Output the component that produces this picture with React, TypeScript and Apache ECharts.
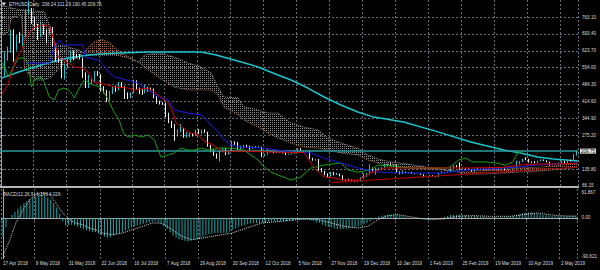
import React, { useEffect, useRef } from 'react';
import * as echarts from 'echarts';

const titleText = 'ETHUSD,Daily  208.24 211.29 190.45 209.75';
const macdText = 'MACD(12,26,9) 6.243 4.026';
const bidPrice = 209.75;

const dateLabels = ['17 Apr 2018', '9 May 2018', '31 May 2018', '22 Jun 2018', '16 Jul 2018', '7 Aug 2018', '29 Aug 2018', '20 Sep 2018', '12 Oct 2018', '5 Nov 2018', '27 Nov 2018', '19 Dec 2018', '10 Jan 2019', '1 Feb 2019', '25 Feb 2019', '19 Mar 2019', '10 Apr 2019', '2 May 2019'];
const priceTicks = [66.15, 135.8, 275.2, 344.9, 414.6, 484.3, 554.0, 623.7, 693.4, 763.1];
const macdTicks = [61.867, 0, -90.821];
const macdTickLabels = ['61.867', '0.00', '-90.821'];

// [open, close, low, high]
const candles = [
  [511,524,499,530],[524,615,520,620],[615,621,583,641],[621,708,615,712],[708,661,578,712],[661,683,625,688],[683,669,655,702],[669,687,640,690],[687,785,680,794],[785,792,775,830],
  [792,751,735,800],[751,728,710,765],[728,685,668,735],[685,729,680,745],[729,708,690,735],[708,696,655,712],[696,717,688,722],[717,649,640,722],[649,624,580,652],[624,587,575,628],
  [587,516,510,595],[516,556,505,570],[556,580,552,590],[580,619,575,625],[619,609,585,625],[609,604,595,612],[604,594,588,610],[594,530,512,596],[530,475,470,535],[475,487,470,525],
  [487,500,485,508],[500,537,495,540],[537,525,520,540],[525,474,455,528],[474,457,448,478],[457,421,412,462],[421,455,418,458],[455,475,445,478],[475,467,455,480],[467,490,460,495],
  [490,475,470,495],[475,448,425,478],[448,432,425,452],[432,450,428,452],[450,499,448,505],[499,469,462,502],[469,461,445,472],[461,450,442,465],[450,471,448,482],[471,470,455,475],
  [470,466,460,472],[466,433,428,468],[433,413,405,436],[413,407,402,418],[407,406,400,412],[406,355,350,410],[355,332,325,368],[332,319,305,335],[319,278,252,322],[278,292,270,300],
  [292,295,288,322],[295,270,265,305],[270,271,265,288],[271,282,268,285],[282,274,270,284],[274,296,272,298],[296,285,280,300],[285,295,280,298],[295,289,285,300],[289,232,228,290],
  [232,216,205,235],[216,197,190,218],[197,185,178,200],[185,211,167,214],[211,221,205,224],[221,197,193,223],[197,210,195,212],[210,248,208,252],[248,245,235,250],[245,218,215,247],
  [218,228,212,232],[228,231,220,235],[231,230,225,236],[230,219,215,232],[219,227,218,229],[227,226,223,229],[226,227,224,231],[227,190,185,228],[190,198,188,199],[198,211,195,220],
  [211,207,205,213],[207,205,200,209],[205,204,202,208],[204,205,201,206],[205,203,200,206],[203,196,194,206],[196,197,194,199],[197,201,196,203],[201,210,199,212],[210,218,205,222],
  [218,210,208,222],[210,211,208,214],[211,212,209,214],[212,180,177,213],[180,174,170,182],[174,175,170,177],[175,131,128,177],[131,126,122,140],[126,113,110,128],[113,109,102,118],
  [109,122,105,124],[122,113,110,124],[113,115,111,119],[115,109,106,117],[109,91,89,110],[91,93,85,95],[93,91,89,96],[91,90,87,92],[90,84,82,91],[84,85,81,87],
  [85,100,84,102],[100,116,96,118],[116,117,104,119],[117,140,115,155],[140,131,125,142],[131,138,112,140],[138,140,130,142],[140,141,131,143],[141,148,139,158],[148,155,146,159],
  [155,150,148,160],[150,152,145,156],[152,125,122,154],[125,116,114,127],[116,122,115,130],[122,121,119,125],[121,123,118,124],[123,117,115,124],[117,116,114,119],[116,117,114,118],
  [117,113,111,118],[113,104,102,114],[104,106,103,109],[106,110,105,112],[110,106,104,111],[106,104,102,107],[104,119,103,121],[119,120,117,126],[120,121,118,124],[121,124,119,125],
  [124,145,123,147],[145,149,138,151],[149,148,143,152],[148,136,132,163],[136,137,134,142],[137,136,132,139],[136,135,133,138],[135,126,124,136],[126,137,125,139],[137,135,133,141],
  [135,137,134,139],[137,134,131,138],[134,133,131,135],[133,143,132,145],[143,138,136,144],[138,141,137,143],[141,137,134,142],[137,138,135,139],[138,135,132,139],[135,140,134,142],
  [140,142,139,145],[142,143,140,144],[143,160,141,170],[160,166,155,168],[166,176,164,178],[176,175,172,185],[175,165,162,178],[165,164,160,167],[164,161,158,169],[161,169,160,170],
  [169,173,168,176],[173,171,169,175],[171,165,163,172],[165,155,150,166],[155,156,153,158],[156,157,154,160],[157,160,155,163],[160,168,158,170],[168,161,158,169],[161,172,160,175],
  [172,170,167,174],[170,195,169,198],[208.24,209.75,190.45,211.29]
];

const macdHist = [
  -45,-22,-3,8,15,22,30,35,40,45, 48,52,54,55,53,49,44,36,25,10,
  -8,-19,-17,-16,-18,-21,-24,-27,-29,-31, -33,-34,-37,-40,-44,-47,-46,-41,-39,-37,
  -34,-30,-27,-23,-20,-18,-16,-14,-12,-11, -9,-8,-10,-13,-20,-27,-34,-42,-47,-51,
  -53,-55,-56,-54,-52,-50,-48,-45,-42,-39, -37,-36,-36,-36,-35,-36,-32,-28,-25,-21,
  -19,-17,-15,-13,-12,-12,-12,-11,-10,-9, -8,-8,-8,-8,-8,-8,-8,-7,-5,-4,
  -4,-4,-4,-5,-8,-11,-12,-16,-19,-21, -23,-25,-26,-26,-26,-26,-25,-24,-23,-21,
  -18,-15,-12,-8,-4,0,4,6,7,8, 8,8,7,6,4,2,1,0,-1,-2,
  -3,-4,-4,-3,-2,-1,0,1,3,5, 7,8,8,8,7,6,5,5,4,4,
  3,3,2,2,2,2,2,2,2,3, 4,5,6,9,12,13,13.5,13,12,11,
  9,8,7,6,5,4,4,4,4,5, 5,6,6.243
];

// [bar position, value] pairs
const macdSignal = [[0,-91],[2.3,-52],[4.3,-12],[6.7,20],[9,44],[11,56],[13.3,60],[15.7,56],[17.7,36],[20,12],[22.3,-4],[24.3,-12],[26.7,-16],[29,-24],[31,-28],[33.3,-36],[36.7,-40],[40,-36],[43.3,-28],[46.7,-20],[50,-12],[52.3,-12],[54.3,-16],[56.7,-28],[60,-44],[63.3,-52],[66.7,-48],[70,-44],[73.3,-40],[76.7,-36],[80,-28],[83.3,-20],[86.7,-12],[90,-10],[93.3,-8],[96.7,-5],[101,-2.4],[105.7,-4],[110,-12],[114.3,-20],[119,-24],[122.3,-20],[125.7,-4],[129,5.6],[132.3,8],[135.7,4],[139,0],[143.3,-4],[147.7,-2.4],[152.3,4],[156.7,5.6],[163.3,4],[170,4],[174.3,8],[179,12],[183.3,8],[185.7,5.6],[192,4.026]];

const tenkan = [[0,441],[2.3,491],[5,594],[6.7,627],[8.3,681],[11,722],[14.3,730],[16,722],[16.7,701],[17.7,656],[19,598],[22.3,573],[24.3,557],[26.7,553],[29,536],[30.7,495],[32.3,491],[35.7,482],[37.7,474],[42.3,470],[44.3,462],[49,470],[51,454],[53.3,433],[55.7,408],[57.3,367],[58.3,326],[60.7,305],[62.3,289],[65.7,276],[68,247],[70,239],[74.3,206],[80,210],[90,206],[97,204],[101,204],[103.3,160],[105.7,123],[107.7,103],[111,99],[114.3,90],[119,90],[121,103],[123.3,119],[127.7,140],[132,140],[136.7,140],[141,140],[146.7,140],[155,140],[166.7,142],[174,153],[178.3,156],[186,157],[192.3,160]];

const kijun = [[8.3,573],[16,573],[17.7,639],[19.3,668],[20.7,648],[27.3,648],[28,598],[32.3,586],[34,565],[35.7,536],[37.7,516],[45.7,491],[47.7,470],[53.3,429],[55.7,421],[57.7,379],[62.3,367],[66.7,359],[67.7,350],[70,317],[72.3,289],[74.3,256],[76.7,235],[79,227],[87.7,222],[96.7,206],[103.3,202],[107.7,181],[113.3,161],[119,140],[125.7,123],[135.7,119],[146.7,119],[156,132],[167.3,140],[172.7,144],[178.3,152],[192.3,161]];

const chikou = [[0,577],[1,557],[2.3,516],[4,557],[5.7,594],[7.7,594],[9,565],[10,474],[11,503],[12.3,511],[13.3,516],[14.3,491],[16,433],[17.7,421],[19,462],[20.7,470],[22.3,462],[23.3,450],[24.3,429],[26,470],[27.7,503],[29.3,491],[31,482],[33.3,470],[35.7,421],[37.7,367],[39.3,338],[40.7,284],[42.3,268],[44.3,276],[46.7,268],[49,276],[51,256],[52.3,214],[53.3,185],[55.7,194],[57.7,202],[60,222],[62.3,214],[64.3,214],[66.7,222],[69,214],[72.3,222],[76.7,222],[81,214],[85.7,173],[87.7,144],[90,123],[92.3,111],[94.7,100],[96.7,90],[100,103],[103.3,140],[107.7,152],[113.3,161],[115.7,132],[119,123],[123.3,132],[125.7,152],[130,148],[136.7,140],[145,140],[149.3,140],[152.7,173],[155,181],[157.3,165],[161.7,165],[165,161],[168.3,152],[170.7,165],[172.3,202],[173.7,209.75]];

const movingAvg = [[0,511],[5.7,536],[11,557],[16.7,577],[22.3,594],[29,606],[33.3,610],[39,615],[50,619],[61,619],[66.7,619],[71.7,606],[77.7,586],[85.7,557],[92.3,524],[96.7,503],[102.3,470],[107.7,433],[113.3,400],[119,371],[124.3,350],[134.3,330],[145.7,289],[156.7,247],[167.7,214],[173.3,202],[179,185],[184.3,177],[192.5,169]];

const cloudIdx = [0,2.3,3.3,6.7,7.7,11,14.3,16.7,17.7,19,22.3,25.7,27.3,29,31,33.3,35.7,37.7,40,43.3,45.7,47.7,52.3,57.7,62.3,66.7,70,72.3,74.3,79,81,85.7,89,92.3,96.7,101,105.7,109,113.3,119,122.3,125.7,130,135.7,141.7,146.7,150,156.7,161.7,166.7,172.7,180,187.3,192.5];
const spanA = [690,700,760,770,545,503,503,515,532,544,586,594,615,639,660,672,660,639,615,594,577,557,515,474,462,462,462,441,392,359,338,309,284,264,243,227,222,214,202,194,173,161,148,140,136,132,128,128,132,132,140,144,152,161];
const spanB = [808,805,800,792,792,788,784,710,656,648,639,627,615,606,606,606,606,606,602,590,577,606,615,598,573,557,532,474,433,429,392,379,367,367,326,309,297,264,243,222,194,177,165,156,144,136,128,115,115,119,123,128,136,144];

const trendLine = [[110,80],[192.5,143]];

function dotPattern(color: string, w: number, h: number) {
  const c = document.createElement('canvas');
  c.width = w;
  c.height = h;
  const ctx = c.getContext('2d')!;
  ctx.fillStyle = color;
  ctx.fillRect(0, 0, 1, 1);
  return { image: c, repeat: 'repeat' };
}

export default function App() {
  const ref = useRef<HTMLDivElement>(null);
  useEffect(() => {
    const chart = echarts.init(ref.current!, null, { renderer: 'svg' });
    const N = candles.length;
    const cats = candles.map((_, i) => String(i));
    const grayFill = dotPattern('#8e8e8e', 2, 2);
    const tanFill = dotPattern('#a46a40', 2, 2);
    const cloudData = cloudIdx.map((x, i) => [x, spanA[i], spanB[i]]);
    const font = 'Liberation Sans, Arial, sans-serif';
    const fs = 4.6;
    const txt = '#dcdcdc';
    const axisCol = '#a8a8a8';
    const gridLine = { show: true, interval: 10, lineStyle: { color: '#66707c', type: [2, 2], width: 1 } };

    const option: any = {
      animation: false,
      backgroundColor: '#000',
      textStyle: { fontFamily: font },
      grid: [
        { left: 0, top: 0, width: 578, height: 186 },
        { left: 0, top: 189, width: 578, height: 70 },
      ],
      xAxis: [
        { type: 'category', gridIndex: 0, data: cats, boundaryGap: true, axisLine: { show: false }, axisTick: { show: false }, axisLabel: { show: false }, splitLine: gridLine },
        { type: 'value', gridIndex: 0, min: -0.5, max: N - 0.5, show: false },
        {
          type: 'category', gridIndex: 1, data: cats, boundaryGap: true,
          axisLine: { show: true, lineStyle: { color: axisCol, width: 1 } },
          axisTick: { show: true, interval: 10, length: 2, lineStyle: { color: axisCol } },
          axisLabel: { show: true, interval: 10, align: 'left', margin: 2, fontSize: fs, color: txt, fontFamily: font, formatter: (_v: string, i: number) => dateLabels[i / 11] ?? '' },
          splitLine: gridLine,
        },
        { type: 'value', gridIndex: 1, min: -0.5, max: N - 0.5, show: false },
      ],
      yAxis: [
        {
          type: 'value', gridIndex: 0, position: 'right', min: 65.7, max: 833.3,
          axisLine: { show: true, lineStyle: { color: axisCol } },
          axisTick: { show: true, length: 2, customValues: priceTicks, lineStyle: { color: axisCol } },
          axisLabel: { show: true, customValues: priceTicks, formatter: (v: number) => v.toFixed(2), fontSize: fs, color: txt, margin: 4, fontFamily: font },
          splitLine: { show: true, lineStyle: { color: '#66707c', type: [2, 2], width: 1 } },
        },
        {
          type: 'value', gridIndex: 1, position: 'right', min: -97.9, max: 69.2,
          axisLine: { show: true, lineStyle: { color: axisCol } },
          axisTick: { show: true, length: 2, customValues: macdTicks, lineStyle: { color: axisCol } },
          axisLabel: { show: true, customValues: macdTicks, formatter: (v: number) => { const k = macdTicks.findIndex((t) => Math.abs(t - v) < 1e-6); return k >= 0 ? macdTickLabels[k] : ''; }, fontSize: fs, color: txt, margin: 4, fontFamily: font },
          splitLine: { show: false },
        },
      ],
      series: [
        {
          type: 'custom', xAxisIndex: 1, yAxisIndex: 0, z: 1, silent: true, clip: true,
          data: cloudData,
          encode: { x: 0, y: [1, 2] },
          renderItem: (params: any, api: any) => {
            const i = params.dataIndex;
            if (i >= cloudData.length - 1) return null;
            const [x0, a0, b0] = cloudData[i];
            const [x1, a1, b1] = cloudData[i + 1];
            const pts = [api.coord([x0, a0]), api.coord([x1, a1]), api.coord([x1, b1]), api.coord([x0, b0])];
            const bull = a0 + a1 > b0 + b1;
            return { type: 'polygon', shape: { points: pts }, style: { fill: bull ? tanFill : grayFill, stroke: null } };
          },
        },
        { type: 'line', xAxisIndex: 1, yAxisIndex: 0, z: 2, symbol: 'none', data: cloudIdx.map((x, i) => [x, spanA[i]]), lineStyle: { color: '#b07650', width: 1, type: 'dotted' } },
        { type: 'line', xAxisIndex: 1, yAxisIndex: 0, z: 2, symbol: 'none', data: cloudIdx.map((x, i) => [x, spanB[i]]), lineStyle: { color: '#9a94a0', width: 1, type: 'dotted' } },
        {
          type: 'line', xAxisIndex: 1, yAxisIndex: 0, z: 3, symbol: 'none', data: movingAvg,
          lineStyle: { color: '#1ec4cc', width: 1.5 },
          markLine: {
            silent: true, symbol: ['none', 'none'],
            lineStyle: { color: '#2f9a9c', width: 1.5, type: 'solid' },
            label: { show: true, position: 'end', distance: 2, formatter: bidPrice.toFixed(2), fontSize: fs, color: '#000', backgroundColor: '#e8e8e8', padding: [0, 1], fontFamily: font },
            data: [{ yAxis: bidPrice }],
          },
        },
        {
          type: 'candlestick', xAxisIndex: 0, yAxisIndex: 0, z: 4, barWidth: 1,
          data: candles,
          itemStyle: { color: '#1fc6d0', color0: '#f0f0f0', borderColor: '#1fc6d0', borderColor0: '#f0f0f0', borderWidth: 1 },
        },
        { type: 'line', xAxisIndex: 1, yAxisIndex: 0, z: 5, symbol: 'none', data: trendLine, lineStyle: { color: '#a00000', width: 1.2 } },
        { type: 'line', xAxisIndex: 1, yAxisIndex: 0, z: 5, symbol: 'none', data: chikou, lineStyle: { color: '#14a014', width: 1 } },
        { type: 'line', xAxisIndex: 1, yAxisIndex: 0, z: 5, symbol: 'none', data: kijun, lineStyle: { color: '#1a1ae6', width: 1 } },
        { type: 'line', xAxisIndex: 1, yAxisIndex: 0, z: 5, symbol: 'none', data: tenkan, lineStyle: { color: '#d40000', width: 1 } },
        { type: 'bar', xAxisIndex: 2, yAxisIndex: 1, barWidth: 1, data: macdHist, itemStyle: { color: '#1fa8aa' } },
        { type: 'line', xAxisIndex: 3, yAxisIndex: 1, z: 5, symbol: 'none', data: macdSignal, lineStyle: { color: '#d8d8d8', width: 1, type: 'dotted' } },
      ],
      graphic: [
        { type: 'rect', shape: { x: 0, y: 186, width: 579, height: 2 }, style: { fill: '#b4b4b4' }, z: 100 },
        { type: 'polygon', shape: { points: [[1.5, 2.5], [6, 2.5], [3.75, 6]] }, style: { fill: '#d8d8d8' }, z: 100 },
        { type: 'text', x: 9, y: 1.8, style: { text: titleText, fill: txt, fontSize: fs, fontFamily: font }, z: 100 },
        { type: 'text', x: 3, y: 191.5, style: { text: macdText, fill: txt, fontSize: fs, fontFamily: font }, z: 100 },
      ],
    };
    chart.setOption(option);
    return () => chart.dispose();
  }, []);
  return <div ref={ref} style={{ position: 'fixed', left: 0, top: 0, width: 600, height: 270, background: '#000' }} />;
}
